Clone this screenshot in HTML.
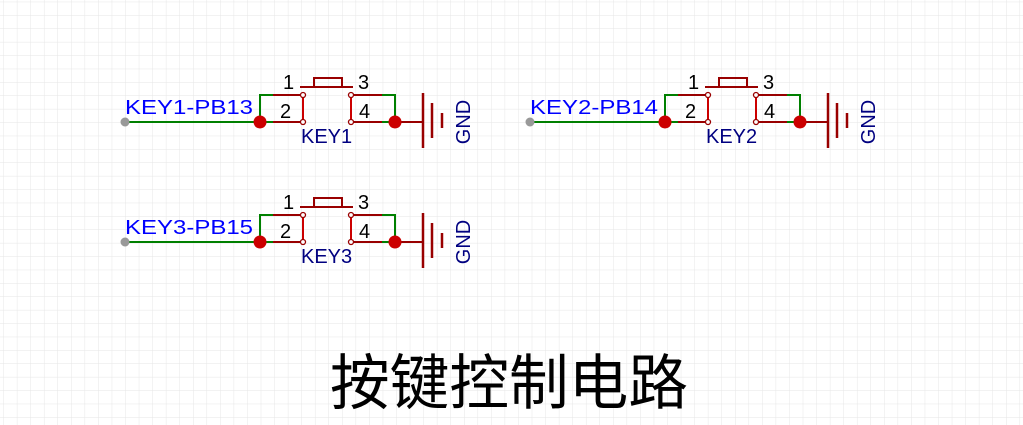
<!DOCTYPE html>
<html><head><meta charset="utf-8"><style>
html,body{margin:0;padding:0;background:#fff;}
svg{display:block}
</style></head><body>
<svg width="1023" height="425" viewBox="0 0 1023 425" xmlns="http://www.w3.org/2000/svg">
<defs>
<pattern id="g" x="3.3" y="1.7" width="13.55" height="13.4" patternUnits="userSpaceOnUse">
<path d="M0 0V13.4M0 0H13.55" stroke="#e6e6e6" stroke-width="1" fill="none"/>
</pattern>
<g id="key">
<line x1="125" y1="122" x2="260" y2="122" stroke="#008000" stroke-width="2"/>
<polyline points="260,122 260,95 273,95" fill="none" stroke="#008000" stroke-width="2"/>
<line x1="273" y1="95" x2="303" y2="95" stroke="#990000" stroke-width="2"/>
<line x1="260" y1="122" x2="273" y2="122" stroke="#008000" stroke-width="2"/>
<line x1="273" y1="122" x2="303" y2="122" stroke="#990000" stroke-width="2"/>
<line x1="303" y1="95" x2="303" y2="122" stroke="#cc0000" stroke-width="2"/>
<line x1="351" y1="95" x2="351" y2="122" stroke="#cc0000" stroke-width="2"/>
<line x1="351" y1="95" x2="382" y2="95" stroke="#990000" stroke-width="2"/>
<line x1="351" y1="122" x2="382" y2="122" stroke="#990000" stroke-width="2"/>
<polyline points="382,95 395,95 395,122 382,122" fill="none" stroke="#008000" stroke-width="2"/>
<line x1="300" y1="87" x2="353" y2="87" stroke="#990000" stroke-width="2"/>
<rect x="314" y="78" width="28" height="9" fill="none" stroke="#990000" stroke-width="2"/>
<circle cx="303" cy="95" r="2.5" fill="#fff" stroke="#990000" stroke-width="1.3"/>
<circle cx="303" cy="122" r="2.5" fill="#fff" stroke="#990000" stroke-width="1.3"/>
<circle cx="351" cy="95" r="2.5" fill="#fff" stroke="#990000" stroke-width="1.3"/>
<circle cx="351" cy="122" r="2.5" fill="#fff" stroke="#990000" stroke-width="1.3"/>
<line x1="395" y1="122" x2="423" y2="122" stroke="#990000" stroke-width="2"/>
<line x1="423" y1="93" x2="423" y2="148" stroke="#990000" stroke-width="2.5"/>
<line x1="432" y1="103" x2="432" y2="138" stroke="#990000" stroke-width="2.5"/>
<line x1="442" y1="113" x2="442" y2="128" stroke="#990000" stroke-width="2.5"/>
<circle cx="125" cy="122" r="4.5" fill="#999"/>
<circle cx="260" cy="122" r="6.5" fill="#cc0000"/>
<circle cx="395" cy="122" r="6.5" fill="#cc0000"/>
<g font-family="Liberation Sans, sans-serif" font-size="20">
<text x="283" y="89" fill="#000">1</text>
<text x="358" y="89" fill="#000">3</text>
<text x="280" y="118" fill="#000">2</text>
<text x="359" y="118" fill="#000">4</text>
<text x="470" y="122" fill="#000080" transform="rotate(-90 470 122)" text-anchor="middle">GND</text>
</g>
</g>
</defs>
<rect width="1023" height="425" fill="url(#g)"/>
<use href="#key"/>
<use href="#key" transform="translate(405,0)"/>
<use href="#key" transform="translate(0,120)"/>
<g font-family="Liberation Sans, sans-serif" font-size="20">
<text x="125" y="114" fill="#0000ff" textLength="128" lengthAdjust="spacingAndGlyphs">KEY1-PB13</text>
<text x="530" y="114" fill="#0000ff" textLength="128" lengthAdjust="spacingAndGlyphs">KEY2-PB14</text>
<text x="125" y="234" fill="#0000ff" textLength="128" lengthAdjust="spacingAndGlyphs">KEY3-PB15</text>
<text x="301" y="143" fill="#000080">KEY1</text>
<text x="706" y="143" fill="#000080">KEY2</text>
<text x="301" y="263" fill="#000080">KEY3</text>
</g>
<text x="509" y="404" text-anchor="middle" font-family="Liberation Sans, Noto Sans CJK SC, sans-serif" font-size="60" fill="#000" textLength="358" lengthAdjust="spacingAndGlyphs">按键控制电路</text>
</svg>
</body></html>
